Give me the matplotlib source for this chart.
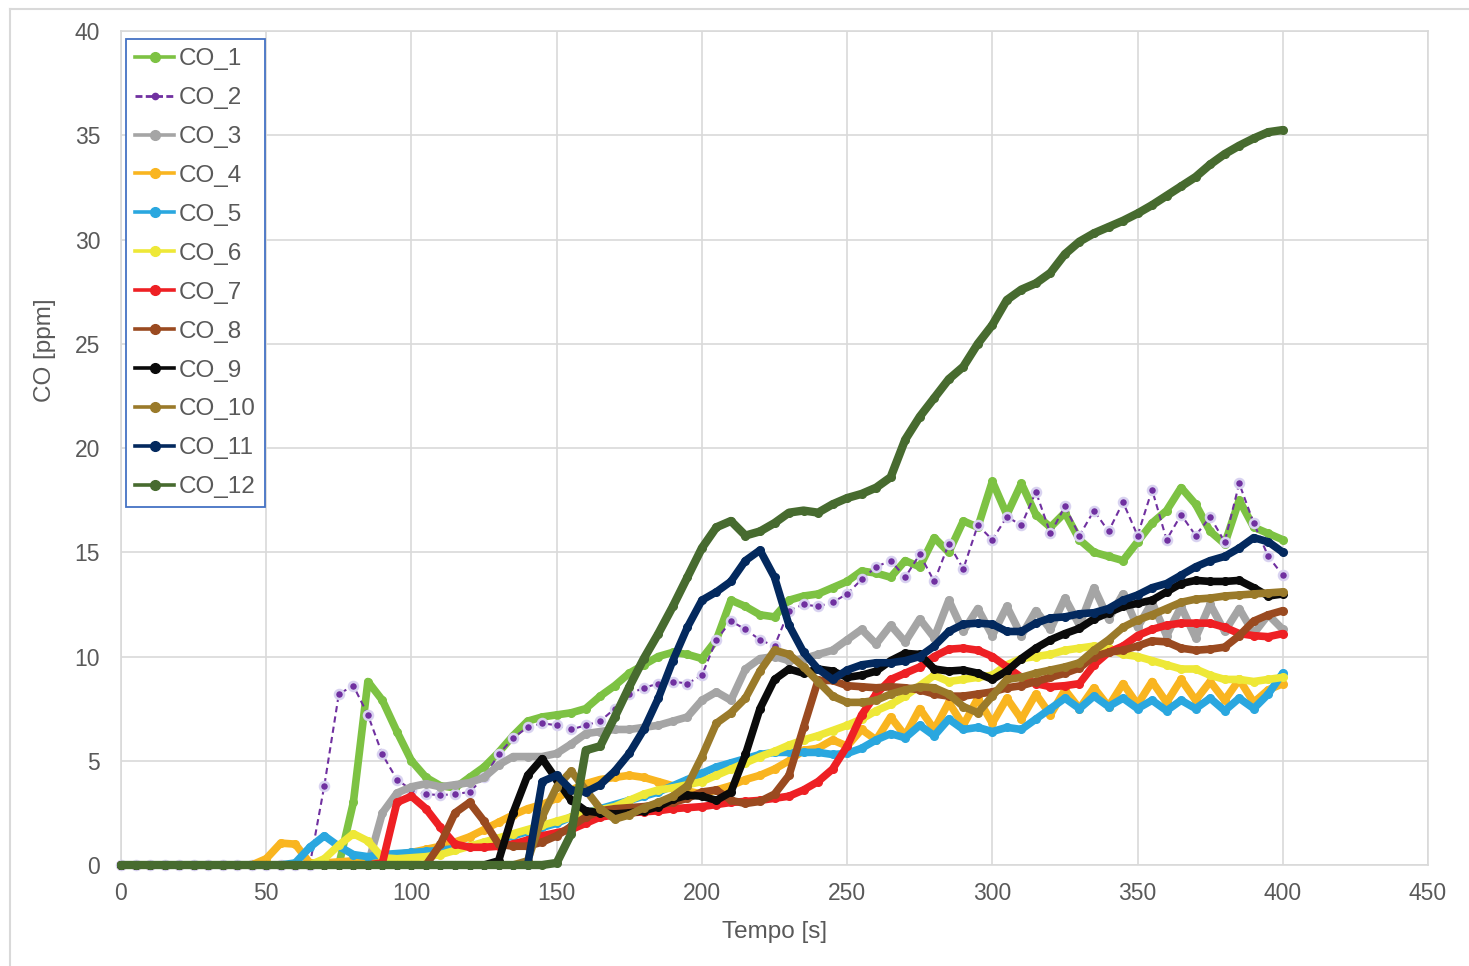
import matplotlib
matplotlib.use("Agg")
import matplotlib.pyplot as plt
from matplotlib.lines import Line2D

plt.rcParams['font.family'] = ['Liberation Sans', 'DejaVu Sans']

# Sampling instants [s]
time_s = list(range(0, 405, 5))

# CO concentration per sensor [ppm], one value every 5 s (rows = 50 s blocks)
co_1 = [0, 0, 0, 0, 0, 0, 0, 0, 0, 0,
        0, 0, 0, 0, 0, 0, 3.0, 8.8, 7.9, 6.4,
        5.0, 4.2, 3.8, 3.7, 4.2, 4.7, 5.4, 6.2, 6.9, 7.1,
        7.2, 7.3, 7.5, 8.1, 8.6, 9.2, 9.6, 10.0, 10.2, 10.1,
        9.9, 10.8, 12.7, 12.4, 12.0, 11.9, 12.7, 12.9, 13.0, 13.3,
        13.6, 14.1, 14.0, 13.8, 14.6, 14.3, 15.7, 15.0, 16.5, 16.2,
        18.4, 16.8, 18.3, 16.8, 16.2, 16.9, 15.6, 15.0, 14.8, 14.6,
        15.5, 16.4, 17.0, 18.1, 17.3, 16.0, 15.4, 17.5, 16.2, 15.9,
        15.6]
co_2 = [0, 0, 0, 0, 0, 0, 0, 0, 0, 0,
        0, 0, 0, 0, 3.8, 8.2, 8.6, 7.2, 5.3, 4.1,
        3.6, 3.4, 3.35, 3.4, 3.5, 4.2, 5.3, 6.1, 6.6, 6.8,
        6.7, 6.5, 6.7, 6.9, 7.5, 8.2, 8.5, 8.7, 8.8, 8.7,
        9.1, 10.8, 11.7, 11.3, 10.8, 10.5, 12.2, 12.5, 12.4, 12.6,
        13.0, 13.7, 14.3, 14.6, 13.8, 14.9, 13.6, 15.4, 14.2, 16.3,
        15.6, 16.7, 16.3, 17.9, 15.9, 17.2, 15.8, 17.0, 16.0, 17.4,
        15.8, 18.0, 15.6, 16.8, 15.8, 16.7, 15.5, 18.3, 16.4, 14.8,
        13.9]
co_3 = [0, 0, 0, 0, 0, 0, 0, 0, 0, 0,
        0, 0, 0, 0, 0, 0, 0, 0, 2.5, 3.45,
        3.75, 3.9, 3.75, 3.85, 3.95, 4.2, 4.8, 5.2, 5.2, 5.2,
        5.35, 5.8, 6.3, 6.4, 6.5, 6.5, 6.6, 6.7, 6.9, 7.1,
        7.9, 8.3, 7.9, 9.4, 9.9, 10.0, 9.8, 9.9, 10.1, 10.3,
        10.8, 11.3, 10.6, 11.5, 10.7, 11.8, 10.9, 12.7, 11.2, 12.3,
        11.0, 12.4, 11.0, 12.2, 11.3, 12.8, 11.5, 13.3, 11.8, 13.0,
        11.4, 12.6, 11.0, 12.4, 10.9, 12.5, 11.2, 12.3, 11.1, 12.0,
        11.3]
co_4 = [0, 0, 0, 0, 0, 0, 0, 0, 0, 0,
        0.3, 1.05, 1.0, 0.1, 0.1, 0.15, 0.2, 0.3, 0.4, 0.5,
        0.6, 0.75, 0.9, 1.1, 1.35, 1.7, 2.05, 2.4, 2.7, 2.9,
        3.2, 3.6, 3.9, 4.1, 4.2, 4.3, 4.2, 4.0, 3.8, 3.55,
        3.4, 3.6, 3.8, 4.1, 4.3, 4.6, 5.0, 5.5, 5.6, 6.0,
        5.7, 6.5, 6.0, 7.1, 6.2, 7.5, 6.5, 7.8, 6.7, 8.0,
        6.8, 8.0, 7.0, 8.2, 7.2, 8.4, 7.5, 8.5, 7.6, 8.7,
        7.7, 8.8, 7.8, 8.9, 7.9, 8.8, 7.9, 8.9, 7.8, 8.4,
        8.7]
co_5 = [0, 0, 0, 0, 0, 0, 0, 0, 0, 0,
        0, 0, 0.1, 0.85, 1.4, 0.9, 0.5, 0.4, 0.5, 0.55,
        0.6, 0.65, 0.7, 0.8, 0.9, 1.0, 1.2, 1.4, 1.6, 1.8,
        2.0, 2.3, 2.5, 2.7, 2.9, 3.1, 3.3, 3.5, 3.8, 4.1,
        4.4, 4.7, 4.9, 5.1, 5.3, 5.4, 5.4, 5.4, 5.4, 5.3,
        5.35, 5.6, 6.0, 6.3, 6.1, 6.7, 6.2, 7.0, 6.5, 6.6,
        6.4, 6.6, 6.5, 7.0, 7.5, 8.0, 7.5, 8.1, 7.6, 8.0,
        7.5, 7.9, 7.4, 7.9, 7.5, 8.0, 7.4, 8.0, 7.5, 8.2,
        9.2]
co_6 = [0, 0, 0, 0, 0, 0, 0, 0, 0, 0,
        0, 0, 0, 0, 0.3, 0.95, 1.5, 1.15, 0.35, 0.3,
        0.35, 0.4, 0.5, 0.7, 0.9, 1.1, 1.3, 1.5, 1.7, 1.9,
        2.1, 2.3, 2.5, 2.65, 2.8, 3.1, 3.4, 3.6, 3.7, 3.85,
        4.0, 4.3, 4.6, 4.9, 5.2, 5.45, 5.75, 6.0, 6.2, 6.45,
        6.7, 7.0, 7.4, 7.7, 8.1, 8.6, 9.1, 8.8, 8.9, 9.0,
        9.1, 9.6, 9.9, 10.0, 10.1, 10.3, 10.4, 10.5, 10.4, 10.1,
        10.0, 9.8, 9.6, 9.4, 9.4, 9.1, 8.9, 8.9, 8.8, 8.9,
        9.0]
co_7 = [0, 0, 0, 0, 0, 0, 0, 0, 0, 0,
        0, 0, 0, 0, 0, 0, 0, 0, 0.1, 3.0,
        3.3, 2.7, 1.8, 1.0, 0.85, 0.85, 0.9, 1.0, 1.2, 1.4,
        1.55, 1.7, 2.0, 2.3, 2.4, 2.5, 2.55, 2.6, 2.7, 2.75,
        2.8, 2.9, 3.0, 3.05, 3.1, 3.2, 3.3, 3.6, 4.0, 4.6,
        5.7, 7.2, 8.2, 8.9, 9.2, 9.5, 10.0, 10.35, 10.4, 10.3,
        10.0, 9.5, 9.0, 8.7, 8.55, 8.6, 8.7, 9.6, 10.2, 10.5,
        11.0, 11.3, 11.5, 11.6, 11.6, 11.6, 11.4, 11.1, 11.0, 10.95,
        11.1]
co_8 = [0, 0, 0, 0, 0, 0, 0, 0, 0, 0,
        0, 0, 0, 0, 0, 0, 0, 0, 0, 0,
        0, 0, 1.0, 2.5, 3.0, 2.1, 1.0, 0.9, 0.9, 1.1,
        1.4, 1.85, 2.3, 2.6, 2.7, 2.75, 2.8, 2.9, 3.0, 3.2,
        3.5, 3.6, 3.1, 2.95, 3.05, 3.4, 4.3, 6.6, 8.85, 8.85,
        8.6, 8.55, 8.5, 8.55, 8.5, 8.4, 8.2, 8.1, 8.1, 8.2,
        8.3, 8.5, 8.6, 8.8, 9.0, 9.2, 9.45, 10.0, 10.2, 10.3,
        10.5, 10.75, 10.7, 10.4, 10.3, 10.35, 10.45, 11.0, 11.7, 12.0,
        12.2]
co_9 = [0, 0, 0, 0, 0, 0, 0, 0, 0, 0,
        0, 0, 0, 0, 0, 0, 0, 0, 0, 0,
        0, 0, 0, 0, 0, 0, 0.2, 2.5, 4.3, 5.1,
        4.1, 3.1, 2.6, 2.5, 2.45, 2.5, 2.6, 2.8, 3.15, 3.35,
        3.3, 3.1, 3.5, 5.3, 7.5, 8.9, 9.4, 9.2, 9.4, 9.3,
        9.0, 9.1, 9.3, 9.8, 10.15, 10.1, 9.4, 9.3, 9.35, 9.2,
        8.9, 9.3, 9.9, 10.4, 10.8, 11.1, 11.35, 11.8, 12.1, 12.4,
        12.55, 12.7, 13.1, 13.5, 13.65, 13.6, 13.6, 13.65, 13.3, 12.9,
        13.0]
co_10 = [0, 0, 0, 0, 0, 0, 0, 0, 0, 0,
         0, 0, 0, 0, 0, 0, 0, 0, 0, 0,
         0, 0, 0, 0, 0, 0, 0, 0, 0.2, 2.3,
         3.75, 4.5, 3.6, 2.7, 2.2, 2.4, 2.75, 3.0, 3.3, 3.8,
         5.2, 6.8, 7.3, 8.0, 9.3, 10.3, 10.1, 9.5, 8.8, 8.1,
         7.8, 7.8, 7.9, 8.2, 8.4, 8.55, 8.5, 8.2, 7.6, 7.3,
         8.1, 8.9, 9.0, 9.2, 9.35, 9.5, 9.7, 10.3, 10.8, 11.4,
         11.75, 12.0, 12.3, 12.6, 12.75, 12.8, 12.9, 12.95, 13.0, 13.05,
         13.1]
co_11 = [0, 0, 0, 0, 0, 0, 0, 0, 0, 0,
         0, 0, 0, 0, 0, 0, 0, 0, 0, 0,
         0, 0, 0, 0, 0, 0, 0, 0, 0, 4.0,
         4.3, 3.6, 3.5, 3.85, 4.5, 5.35, 6.5, 8.0, 9.8, 11.4,
         12.7, 13.1, 13.6, 14.6, 15.1, 13.8, 11.5, 10.2, 9.4, 8.9,
         9.35, 9.6, 9.7, 9.7, 9.8, 10.0, 10.5, 11.2, 11.55, 11.6,
         11.55, 11.2, 11.2, 11.6, 11.85, 11.9, 12.05, 12.1, 12.3, 12.7,
         12.95, 13.3, 13.5, 13.9, 14.3, 14.6, 14.8, 15.2, 15.7, 15.5,
         15.0]
co_12 = [0, 0, 0, 0, 0, 0, 0, 0, 0, 0,
         0, 0, 0, 0, 0, 0, 0, 0, 0, 0,
         0, 0, 0, 0, 0, 0, 0, 0, 0, 0,
         0.1, 1.5, 5.5, 5.7, 7.1, 8.55, 9.9, 11.1, 12.4, 13.8,
         15.2, 16.2, 16.5, 15.8, 16.0, 16.4, 16.9, 17.0, 16.9, 17.3,
         17.6, 17.8, 18.1, 18.6, 20.4, 21.5, 22.4, 23.3, 23.9, 25.0,
         25.9, 27.1, 27.6, 27.9, 28.4, 29.3, 29.9, 30.3, 30.6, 30.9,
         31.25, 31.65, 32.1, 32.55, 33.0, 33.6, 34.1, 34.5, 34.85, 35.15,
         35.25]

series_names = ["CO_1", "CO_2", "CO_3", "CO_4", "CO_5", "CO_6",
                "CO_7", "CO_8", "CO_9", "CO_10", "CO_11", "CO_12"]
series_values = [co_1, co_2, co_3, co_4, co_5, co_6,
                 co_7, co_8, co_9, co_10, co_11, co_12]
series_colors = ['#7DC243', '#7030A0', '#A5A5A5', '#F9B520', '#2AA7DF', '#EEE837',
                 '#EE2024', '#9A4A20', '#0A0A0A', '#9A7A2A', '#03295E', '#476B2F']

x_ticks = list(range(0, 451, 50))
y_ticks = list(range(0, 41, 5))

W, H = 1469, 966
fig = plt.figure(figsize=(W / 100, H / 100), dpi=100)
fig.patch.set_facecolor('white')
ax = fig.add_axes([121 / W, 101 / H, 1307 / W, 834 / H])

grid_c = '#D9D9D9'
text_c = '#595959'

handles = []
for i, (name, vals, col) in enumerate(zip(series_names, series_values, series_colors)):
    if name == "CO_2":
        ax.plot(time_s, vals, color=col, lw=1.5, ls=(0, (3, 2)), marker='o', ms=6.5,
                mfc=col, mec='#D8D2F0', mew=1.8, clip_on=False, zorder=3 + i)
        handles.append(Line2D([], [], color=col, lw=2.0, ls=(0, (2.5, 1.2)), marker='o',
                              ms=4.5, mfc=col, mec=col, label=name))
    else:
        lw = 6.0 if name == "CO_12" else 5.5
        ax.plot(time_s, vals, color=col, lw=lw, marker='o', ms=5.5, mec=col,
                solid_joinstyle='round', solid_capstyle='round',
                clip_on=False, zorder=3 + i)
        handles.append(Line2D([], [], color=col, lw=2.6, marker='o', ms=7,
                              mfc=col, mec=col, label=name))

ax.set_xlim(0, 450)
ax.set_ylim(0, 40)
ax.set_xticks(x_ticks)
ax.set_yticks(y_ticks)
ax.grid(True, color=grid_c, lw=1.2, zorder=0)
ax.set_axisbelow(True)
for side, sp in ax.spines.items():
    sp.set_color(grid_c)
    sp.set_linewidth(1.2)
ax.tick_params(length=0, labelsize=16.5, labelcolor=text_c)
ax.tick_params(axis='x', pad=12)
ax.tick_params(axis='y', pad=15)

leg = ax.legend(handles=handles, loc='upper left',
                bbox_to_anchor=(5 / 1307, (865 - 39) / 834), borderaxespad=0,
                frameon=True, fancybox=False, edgecolor='#4472C4', fontsize=17.5,
                handlelength=1.6, handletextpad=0.2, labelspacing=0.695,
                borderpad=0.38, numpoints=1, framealpha=1)
leg.get_frame().set_linewidth(1.3)
leg.set_zorder(30)
for txt in leg.get_texts():
    txt.set_color(text_c)

fig.text(45 / W, 1 - 350 / H, 'CO [ppm]', rotation=90, ha='center', va='center',
         fontsize=17.5, color=text_c)
fig.text(775 / W, 1 - 932 / H, 'Tempo [s]', ha='center', va='center',
         fontsize=17.5, color=text_c)

# chart area frame
fig.add_artist(Line2D([10 / W, 10 / W], [0, 1 - 9 / H], transform=fig.transFigure,
                      color=grid_c, lw=1.5))
fig.add_artist(Line2D([10 / W, 1], [1 - 9 / H, 1 - 9 / H], transform=fig.transFigure,
                      color=grid_c, lw=1.5))

fig.savefig('out.png', dpi=100, facecolor='white')
